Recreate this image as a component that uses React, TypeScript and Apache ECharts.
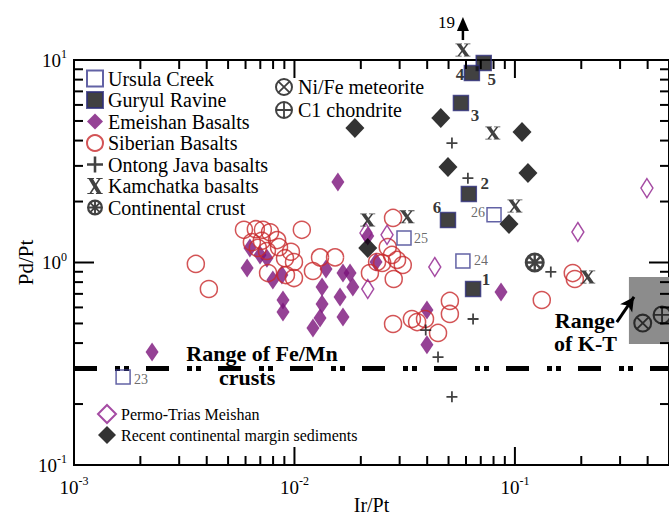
import React, { useEffect, useRef } from 'react';
import * as echarts from 'echarts';

// ---------------- data (Ir/Pt, Pd/Pt) ----------------
const ursulaCreek = [[0.00167, 0.272], [0.0314, 1.32], [0.0581, 1.016], [0.0804, 1.72]];
const ursulaLabels = ['23', '25', '24', '26'];
const guryulRavine = [[0.0722, 9.66], [0.0638, 8.62], [0.0569, 6.13], [0.0618, 2.18], [0.0497, 1.62], [0.0646, 0.74]];
const guryulLabels = ['5', '4', '3', '2', '6', '1'];
const emeishanBasalts = [
  [0.00226, 0.361], [0.01574, 2.5], [0.0061, 0.94], [0.00628, 1.18], [0.00698, 1.09], [0.0075, 1.05],
  [0.00798, 0.82], [0.00877, 0.867], [0.00887, 0.653], [0.00887, 0.57], [0.01213, 0.475], [0.01306, 0.532],
  [0.01334, 0.624], [0.01334, 0.757], [0.0139, 0.929], [0.0166, 0.887], [0.01787, 0.887], [0.0184, 0.757],
  [0.0161, 0.676], [0.0166, 0.538], [0.0215, 1.35], [0.02344, 1.006], [0.0399, 0.582], [0.0399, 0.392], [0.0865, 0.715],
];
const siberianBasalts = [
  [0.00357, 0.984], [0.00409, 0.74], [0.0059, 1.45], [0.00668, 1.46], [0.00719, 1.45], [0.00775, 1.41],
  [0.00834, 1.29], [0.00641, 1.26], [0.00711, 1.28], [0.00682, 1.18], [0.0075, 1.14], [0.00851, 1.19],
  [0.0108, 1.45], [0.00964, 1.13], [0.00995, 1.006], [0.00906, 1.05], [0.00759, 0.887], [0.00915, 0.867],
  [0.00995, 0.838], [0.01213, 0.908], [0.01306, 1.06], [0.01528, 1.06], [0.028, 1.66], [0.0265, 1.19],
  [0.0277, 1.09], [0.0292, 1.03], [0.031, 0.972], [0.025, 0.994], [0.022, 0.887], [0.0237, 1.006],
  [0.0282, 0.829], [0.028, 0.497], [0.0341, 0.526], [0.036, 0.508], [0.0391, 0.526], [0.0448, 0.449],
  [0.0507, 0.646], [0.0507, 0.557], [0.1324, 0.653], [0.183, 0.887], [0.187, 0.829],
];
const ontongJavaBasalts = [[0.0518, 3.89], [0.0612, 2.61], [0.1455, 0.898], [0.0646, 0.526], [0.0394, 0.464], [0.0448, 0.341], [0.0518, 0.217]];
const kamchatkaBasalts = [[0.0581, 11.2], [0.0794, 4.36], [0.1, 1.9], [0.0215, 1.62], [0.0324, 1.68], [0.214, 0.848]];
const continentalCrust = [[0.123, 1.0]];
const niFeMeteorite = [[0.38, 0.502]];
const c1Chondrite = [[0.465, 0.551]];
const permoTriasMeishan = [[0.0211, 1.4], [0.0263, 1.37], [0.0215, 0.74], [0.0433, 0.95], [0.193, 1.415], [0.397, 2.33]];
const recentMarginSediments = [[0.0188, 4.62], [0.0461, 5.17], [0.0497, 2.96], [0.1077, 4.41], [0.1146, 2.77], [0.094, 1.55], [0.0215, 1.18]];

const feMnCrustLevel = 0.3;
const ktRangeX = [0.329, 0.5];
const ktRangeY = [0.396, 0.848];
const ktArrowFrom = [0.29, 0.508];
const ktArrowTo = [0.347, 0.676];
const offScaleValue = '19';

const xRange = [0.001, 0.5];
const yRange = [0.1, 10];
const xMajorTicks = [0.001, 0.01, 0.1];
const xMinorTicks = [0.002, 0.003, 0.004, 0.005, 0.006, 0.007, 0.008, 0.009, 0.02, 0.03, 0.04, 0.05, 0.06, 0.07, 0.08, 0.09, 0.2, 0.3, 0.4, 0.5];
const yMajorTicks = [0.1, 1, 10];
const yMinorTicks = [0.2, 0.3, 0.4, 0.5, 0.6, 0.7, 0.8, 0.9, 2, 3, 4, 5, 6, 7, 8, 9];

// annotation anchors (data coordinates)
const feMnTextAt = [0.00713, 0.357];
const crustsTextAt = [0.0061, 0.269];
const ktText1At = [0.2075, 0.52];
const ktText2At = [0.209, 0.4];

// ---------------- styles / layout ----------------
const SERIF = 'Liberation Serif';
const NAVY = '#3b3b8f';
const PURPLE = '#7a137a';
const RED = '#c8292c';
const GRID = { left: 74, top: 60, width: 595, height: 405 };

const ring = (r: number) =>
  `M50,0A50,50,0,1,1,50,100A50,50,0,1,1,50,0Z M50,${50 - r}A${r},${r},0,1,0,50,${50 + r}A${r},${r},0,1,0,50,${50 - r}Z`;
const X_PATH = 'path://M10,6L38,6L90,94L62,94Z M72,6L84,6L28,94L16,94Z M2,0L44,0L44,6L2,6Z M58,0L98,0L98,6L58,6Z M2,94L42,94L42,100L2,100Z M56,94L98,94L98,100L56,100Z';
const PLUS_PATH = 'path://M42,0L58,0L58,42L100,42L100,58L58,58L58,100L42,100L42,58L0,58L0,42L42,42Z';
const NIFE_PATH = 'path://' + ring(39) + ' M24.5,17.5L82.5,75.5L75.5,82.5L17.5,24.5Z M75.5,17.5L82.5,24.5L24.5,82.5L17.5,75.5Z';
const C1_PATH = 'path://' + ring(39) + ' M45,10L55,10L55,90L45,90Z M10,45L90,45L90,55L10,55Z';
const CRUST_PATH = 'path://' + ring(36) + ' M44,12L56,12L56,88L44,88Z M12,44L88,44L88,56L12,56Z M26,18L82,74L74,82L18,26Z M74,18L82,26L26,82L18,74Z';

const guryulOffsets: Record<string, number[]> = {
  '5': [8, 16], '4': [-12, 1], '3': [14, 12], '2': [16, -10], '6': [-11, -13], '1': [13, -9],
};
const ursulaOffsets: Record<string, number[]> = {
  '23': [18, 3], '25': [17, 0], '24': [18, -1], '26': [-16, -2],
};

const supFmt = (v: number) => {
  const e = Math.log10(v);
  const r = Math.round(e);
  if (Math.abs(e - r) > 1e-6) return '';
  return `{b|10}{s|${r}}`;
};
const labelRich = {
  b: { fontSize: 19, fontFamily: SERIF, color: '#000', lineHeight: 24 },
  s: { fontSize: 12, fontFamily: SERIF, color: '#000', lineHeight: 12, verticalAlign: 'top' },
};

export default function App() {
  const ref = useRef<HTMLDivElement>(null);
  useEffect(() => {
    document.body.style.margin = '0';
    const chart = echarts.init(ref.current!, null, { renderer: 'svg' });
    const scatterBase = { type: 'scatter', clip: false };
    const option: any = {
      animation: false,
      backgroundColor: '#fff',
      textStyle: { fontFamily: SERIF },
      grid: {
        ...GRID, show: true,
        borderColor: '#000', borderWidth: 2, backgroundColor: 'transparent',
        outerBoundsMode: 'none',
      },
      xAxis: {
        type: 'log', logBase: 10, min: xRange[0], max: xRange[1],
        axisLine: { show: false }, splitLine: { show: false }, axisTick: { show: false },
        axisLabel: { formatter: supFmt, margin: 10, rich: labelRich, showMinLabel: true, showMaxLabel: true, hideOverlap: false },
        name: 'Ir/Pt', nameLocation: 'middle', nameGap: 30, nameMoveOverlap: false,
        nameTextStyle: { fontSize: 20, fontFamily: SERIF, color: '#000' },
      },
      yAxis: {
        type: 'log', logBase: 10, min: yRange[0], max: yRange[1],
        axisLine: { show: false }, splitLine: { show: false }, axisTick: { show: false },
        axisLabel: { formatter: supFmt, margin: 7, rich: labelRich, showMinLabel: true, showMaxLabel: true, align: 'right' },
        name: 'Pd/Pt', nameLocation: 'middle', nameGap: 38, nameMoveOverlap: false,
        nameTextStyle: { fontSize: 21, fontFamily: SERIF, color: '#000' },
      },
      legend: [
        {
          data: ['Ursula Creek', 'Guryul Ravine', 'Emeishan Basalts', 'Siberian Basalts', 'Ontong Java basalts', 'Kamchatka basalts', 'Continental crust'],
          left: 86, top: 68, orient: 'vertical', itemWidth: 16, itemHeight: 16, itemGap: 0.5, padding: 0,
          selectedMode: false,
          textStyle: { fontFamily: SERIF, fontSize: 20, color: '#000', lineHeight: 21 },
        },
        {
          data: ['Ni/Fe meteorite', 'C1 chondrite'],
          left: 275, top: 77, orient: 'vertical', itemWidth: 18, itemHeight: 18, itemGap: 3, padding: 0,
          selectedMode: false,
          textStyle: { fontFamily: SERIF, fontSize: 20, color: '#000', lineHeight: 20 },
        },
        {
          data: ['Permo-Trias Meishan', 'Recent continental margin sediments'],
          left: 97, top: 404, orient: 'vertical', itemWidth: 18, itemHeight: 18, itemGap: 2, padding: 0,
          selectedMode: false,
          textStyle: { fontFamily: SERIF, fontSize: 16, color: '#000', lineHeight: 18 },
        },
      ],
      series: [
        {
          name: 'Fe/Mn crusts', type: 'line', data: [[xRange[0], feMnCrustLevel], [xRange[1], feMnCrustLevel]],
          symbol: 'none', silent: true, z: 1,
          lineStyle: { color: '#000', width: 5, type: [23, 18, 5, 4, 5, 17] },
          markArea: {
            silent: true, itemStyle: { color: '#8c8c8c' },
            data: [[{ coord: [ktRangeX[0], ktRangeY[1]] }, { coord: [ktRangeX[1], ktRangeY[0]] }]],
          },
          markLine: {
            silent: true, symbol: ['none', 'arrow'], symbolSize: [11, 14],
            lineStyle: { color: '#000', width: 3, type: 'solid' }, label: { show: false },
            data: [[{ coord: ktArrowFrom }, { coord: ktArrowTo }]],
          },
        },
        {
          ...scatterBase, name: 'Emeishan Basalts', data: emeishanBasalts, symbol: 'diamond', symbolSize: [13, 19],
          itemStyle: { color: PURPLE },
        },
        {
          ...scatterBase, name: 'Siberian Basalts', data: siberianBasalts, symbol: 'circle', symbolSize: 17,
          itemStyle: { color: 'rgba(0,0,0,0)', borderColor: RED, borderWidth: 1.5 },
        },
        {
          ...scatterBase, name: 'Permo-Trias Meishan', data: permoTriasMeishan, symbol: 'diamond', symbolSize: [12, 19],
          itemStyle: { color: 'rgba(0,0,0,0)', borderColor: '#8e1e8c', borderWidth: 1.5 },
        },
        {
          ...scatterBase, name: 'Ursula Creek', symbol: 'rect', symbolSize: 14,
          itemStyle: { color: 'rgba(0,0,0,0)', borderColor: NAVY, borderWidth: 1.5 },
          data: ursulaCreek.map((d, i) => ({
            value: d,
            label: {
              show: true, formatter: ursulaLabels[i], position: 'inside', offset: ursulaOffsets[ursulaLabels[i]],
              fontFamily: SERIF, fontSize: 14, color: '#444',
            },
          })),
        },
        {
          ...scatterBase, name: 'Recent continental margin sediments', data: recentMarginSediments,
          symbol: 'diamond', symbolSize: [19, 20], itemStyle: { color: '#000' },
        },
        {
          ...scatterBase, name: 'Guryul Ravine', symbol: 'rect', symbolSize: 15,
          itemStyle: { color: '#111', borderColor: '#2e2e7a', borderWidth: 1.5 },
          data: guryulRavine.map((d, i) => ({
            value: d,
            label: {
              show: true, formatter: guryulLabels[i], position: 'inside', offset: guryulOffsets[guryulLabels[i]],
              fontFamily: SERIF, fontSize: 17, fontWeight: 'bold', color: '#000',
            },
          })),
        },
        {
          ...scatterBase, name: 'Ontong Java basalts', data: ontongJavaBasalts, symbol: PLUS_PATH, symbolSize: 11,
          itemStyle: { color: '#111' },
        },
        {
          ...scatterBase, name: 'Kamchatka basalts', data: kamchatkaBasalts, symbol: X_PATH, symbolSize: [15, 13],
          itemStyle: { color: '#111' },
        },
        {
          ...scatterBase, name: 'Continental crust', data: continentalCrust, symbol: CRUST_PATH, symbolSize: 20,
          itemStyle: { color: '#111' },
        },
        {
          ...scatterBase, name: 'Ni/Fe meteorite', data: niFeMeteorite, symbol: NIFE_PATH, symbolSize: 19,
          itemStyle: { color: '#111' },
        },
        {
          ...scatterBase, name: 'C1 chondrite', data: c1Chondrite, symbol: C1_PATH, symbolSize: 19,
          itemStyle: { color: '#111' },
        },
      ],
    };
    chart.setOption(option);

    const p = (d: number[]) => chart.convertToPixel({ gridIndex: 0 }, d) as number[];
    const L = GRID.left, T = GRID.top, R = GRID.left + GRID.width, B = GRID.top + GRID.height;
    const ticks: any[] = [];
    const bar = (x: number, y: number, w: number, h: number) => ({
      type: 'polygon', z: 20,
      shape: { points: [[x, y], [x + w, y], [x + w, y + h], [x, y + h]] },
      style: { fill: '#000' },
    });
    const addX = (v: number, len: number) => {
      const x = Number(p([v, 0.5])[0]);
      if (!isFinite(x)) return;
      ticks.push(bar(x - 1, B - len, 2, len));
      ticks.push(bar(x - 1, T, 2, len));
    };
    const addY = (v: number, len: number) => {
      const y = Number(p([0.05, v])[1]);
      if (!isFinite(y)) return;
      ticks.push(bar(L, y - 1, len, 2));
      ticks.push(bar(R - len, y - 1, len, 2));
    };
    xMajorTicks.forEach((v) => addX(v, 18));
    xMinorTicks.forEach((v) => addX(v, 9));
    yMajorTicks.forEach((v) => addY(v, 20));
    yMinorTicks.forEach((v) => addY(v, 9));

    const a = p(kamchatkaBasalts[0]);
    const t1 = p(feMnTextAt), t2 = p(crustsTextAt), t3 = p(ktText1At), t4 = p(ktText2At);
    const boldText = (pos: number[], text: string) => ({
      type: 'text', x: pos[0], y: pos[1], z: 20,
      style: { text, fontFamily: SERIF, fontSize: 22, fontWeight: 'bold', fill: '#000', align: 'center', verticalAlign: 'middle' },
    });
    chart.setOption({
      graphic: [
        {
          type: 'text', x: a[0] - 8, y: a[1] - 28, z: 20,
          style: { text: offScaleValue, fontFamily: SERIF, fontSize: 17, fill: '#000', align: 'right', verticalAlign: 'middle' },
        },
        { type: 'polygon', z: 20, shape: { points: [[a[0], a[1] - 33], [a[0] - 6, a[1] - 19], [a[0] + 6, a[1] - 19]] }, style: { fill: '#000' } },
        bar(a[0] - 1.25, a[1] - 20, 2.5, 10),
        boldText(t1, 'Range of Fe/Mn'),
        boldText(t2, 'crusts'),
        boldText(t3, 'Range'),
        boldText(t4, 'of K-T'),
        ...ticks,
      ],
    });
    return () => chart.dispose();
  }, []);
  return <div ref={ref} style={{ position: 'fixed', left: 0, top: 0, width: 669, height: 517, background: '#fff' }} />;
}
